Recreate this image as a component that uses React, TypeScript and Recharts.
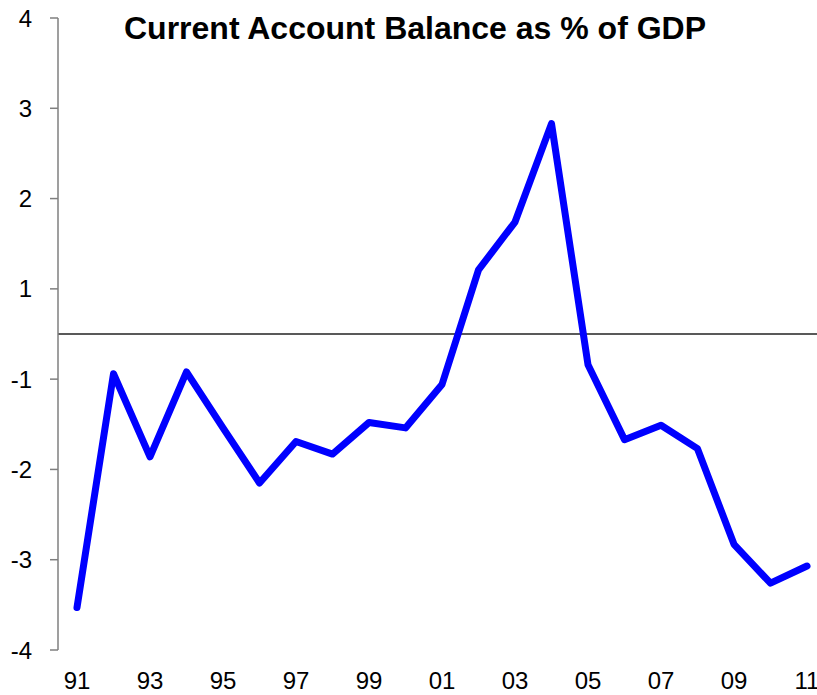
import React from "react";
import { LineChart, Line, XAxis, YAxis, ReferenceLine } from "recharts";

const years = [
  "91", "92", "93", "94", "95", "96", "97", "98", "99", "00", "01",
  "02", "03", "04", "05", "06", "07", "08", "09", "10", "11",
];

const balance = [
  -3.03, -0.44, -1.36, -0.42, -1.04, -1.65, -1.19, -1.33, -0.98, -1.04, -0.56,
  0.71, 1.24, 2.33, -0.34, -1.17, -1.01, -1.27, -2.33, -2.76, -2.57,
];

const yTicks = [-3.5, -2.5, -1.5, -0.5, 0.5, 1.5, 2.5, 3.5];

const data = years.map((y, i) => ({ year: y, value: balance[i] }));

// excel style label: rounds half away from zero
const fmtY = (v: number) => String(Math.sign(v) * Math.round(Math.abs(v)));

const font = "'Liberation Sans', Arial, sans-serif";

const App: React.FC = () => {
  return (
    <div style={{ position: "absolute", left: 0, top: 0, width: 817, height: 695, background: "#fff" }}>
      <div
        style={{
          position: "absolute",
          left: 0,
          top: 12,
          width: 830,
          textAlign: "center",
          fontFamily: font,
          fontWeight: "bold",
          fontSize: 32,
          color: "#000",
          lineHeight: "32px",
          whiteSpace: "nowrap",
        }}
      >
        Current Account Balance as % of GDP
      </div>
      <LineChart
        width={817}
        height={695}
        data={data}
        margin={{ top: 18, right: 0, bottom: 0, left: 0 }}
      >
        <XAxis
          dataKey="year"
          interval={1}
          axisLine={false}
          tickLine={false}
          tickSize={0}
          tickMargin={22}
          height={45}
          padding={{ left: 19, right: 10 }}
          tick={{ fill: "#000", fontSize: 24, fontFamily: font }}
        />
        <YAxis
          type="number"
          domain={[-3.5, 3.5]}
          ticks={yTicks}
          tickFormatter={fmtY}
          width={58}
          tickSize={8}
          tickMargin={18}
          axisLine={{ stroke: "#7f7f7f", strokeWidth: 1.5 }}
          tickLine={{ stroke: "#7f7f7f", strokeWidth: 1.5 }}
          tick={{ fill: "#000", fontSize: 24, fontFamily: font }}
        />
        <ReferenceLine y={0} stroke="#222" strokeWidth={1.3} />
        <Line
          type="linear"
          dataKey="value"
          stroke="#0000ff"
          strokeWidth={7}
          strokeLinecap="round"
          strokeLinejoin="round"
          dot={false}
          isAnimationActive={false}
        />
      </LineChart>
    </div>
  );
};

export default App;
